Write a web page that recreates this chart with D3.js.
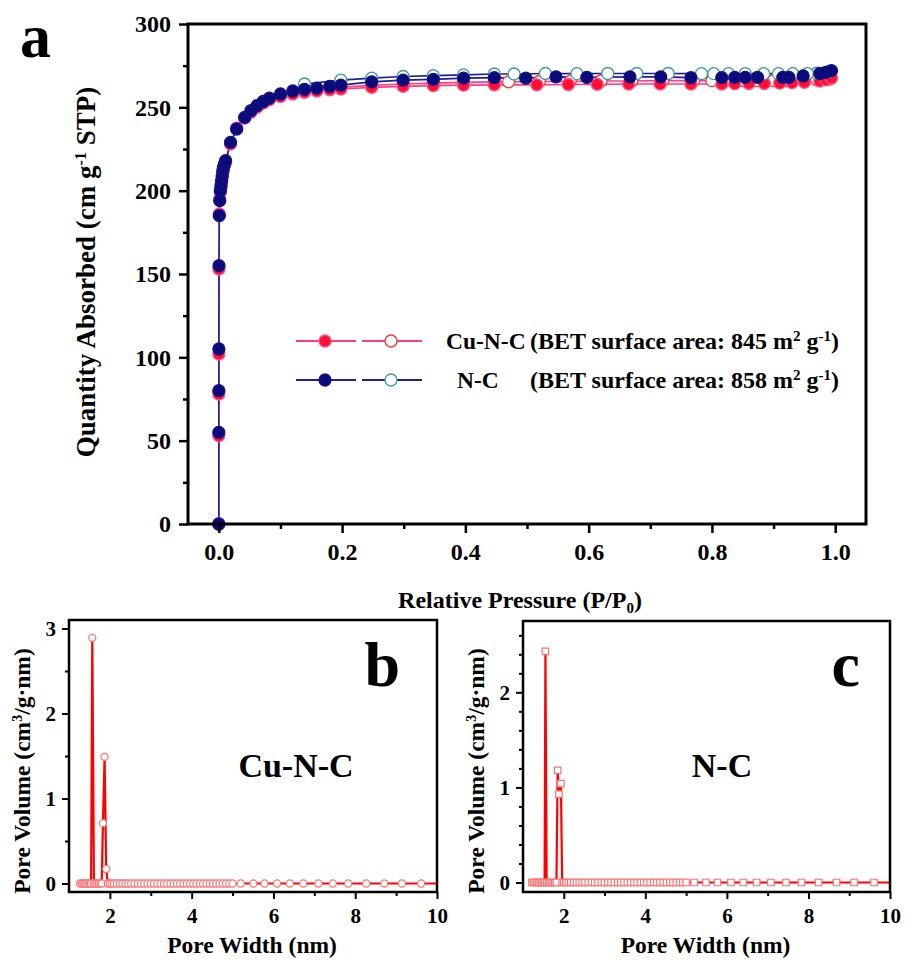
<!DOCTYPE html>
<html>
<head>
<meta charset="utf-8">
<script src="https://cdn.jsdelivr.net/npm/d3@7"></script>
<style>
  body { margin: 0; background: #fff; }
  svg text { font-family: "Liberation Serif", "Times New Roman", serif; font-weight: bold; fill: #000; }
</style>
</head>
<body>
<script>
// ---- panel a: N2 isotherms ----
const ncAdsX = [0, 0.00002, 0.00005, 0.0001, 0.0003, 0.0008, 0.0015, 0.0025, 0.0035, 0.0045, 0.0055, 0.0065, 0.0075, 0.009, 0.011, 0.019, 0.029, 0.042, 0.052, 0.062, 0.072, 0.082, 0.1, 0.12, 0.139, 0.159, 0.18, 0.198, 0.248, 0.299, 0.348, 0.397, 0.447, 0.498, 0.547, 0.597, 0.667, 0.717, 0.766, 0.816, 0.837, 0.854, 0.874, 0.915, 0.925, 0.948, 0.975, 0.985, 0.994];
const ncAdsY = [0, 55, 80, 105, 155, 185, 194, 200, 203, 206, 209, 212, 214, 216, 218, 229, 237, 244, 248, 251, 253.5, 255.5, 258, 259.8, 260.8, 261.5, 262.5, 263.3, 265.3, 266.3, 266.8, 267.5, 267.8, 267.5, 268.3, 268, 268.3, 268.3, 267.8, 267.8, 268, 268, 268, 268, 268, 268.8, 270.3, 271, 272];
const ncDesX = [0.99, 0.97, 0.955, 0.931, 0.908, 0.884, 0.854, 0.827, 0.803, 0.783, 0.729, 0.678, 0.631, 0.581, 0.530, 0.479, 0.447, 0.397, 0.348, 0.299, 0.248, 0.198, 0.139];
const ncDesY = [271.5, 270.5, 270.2, 270.2, 270.2, 270.2, 270.2, 270.2, 270.2, 270.2, 270.3, 270.3, 270.3, 270.2, 270.3, 270, 270, 269.5, 269, 268.5, 267.5, 266.3, 264];

const cuAdsX = [0, 0.00002, 0.00005, 0.0001, 0.0003, 0.0008, 0.0015, 0.0025, 0.0035, 0.0045, 0.0055, 0.0065, 0.0075, 0.009, 0.011, 0.019, 0.029, 0.042, 0.052, 0.062, 0.072, 0.082, 0.1, 0.12, 0.139, 0.159, 0.18, 0.198, 0.248, 0.299, 0.348, 0.397, 0.447, 0.516, 0.567, 0.614, 0.665, 0.716, 0.766, 0.816, 0.837, 0.86, 0.885, 0.91, 0.93, 0.95, 0.975, 0.985, 0.994];
const cuAdsY = [0, 53, 78, 102, 153, 186, 195, 199, 202, 205, 208, 211, 213, 215, 217, 228, 237.5, 243.5, 247, 250, 252.5, 254.5, 256.5, 258, 259, 259.8, 260.5, 261, 262, 262.6, 263, 263.3, 263.5, 263.5, 263.7, 263.8, 264, 264, 264, 264, 264.2, 264.3, 264.3, 264.5, 264.8, 265, 265.8, 266.5, 267.5];
const cuDesX = [0.99, 0.97, 0.948, 0.92, 0.9, 0.873, 0.85, 0.82, 0.8, 0.77, 0.72, 0.67, 0.62, 0.57, 0.52, 0.47, 0.447, 0.397, 0.348, 0.299, 0.248, 0.198, 0.139];
const cuDesY = [267, 266.5, 266.3, 266, 266, 266, 266, 266, 266, 266, 266, 265.8, 265.8, 265.6, 265.5, 265.3, 265.3, 265, 264.5, 264, 263.2, 262, 260];

const aTicksX = [0, 0.2, 0.4, 0.6, 0.8, 1.0];
const aMinorX = [0.1, 0.3, 0.5, 0.7, 0.9];
const aTicksY = [0, 50, 100, 150, 200, 250, 300];
const aMinorY = [25, 75, 125, 175, 225, 275];
const legendNames = ['Cu-N-C', 'N-C'];
const legendBET = ['845', '858'];

// ---- panels b, c: pore size distributions ----
const cuPoreX = [1.27, 1.31, 1.35, 1.39, 1.43, 1.47, 1.51, 1.54, 1.57, 1.61, 1.65, 1.69, 1.73, 1.77, 1.80, 1.83, 1.87, 1.91, 1.95, 1.99,
  2.04, 2.10, 2.17, 2.24, 2.31, 2.38, 2.45, 2.52,
  2.60, 2.68, 2.76, 2.84, 2.92, 3.00, 3.08, 3.16, 3.24, 3.32, 3.40, 3.48, 3.56, 3.64, 3.72, 3.80, 3.88, 3.96,
  4.04, 4.12, 4.20, 4.28, 4.36, 4.44, 4.52, 4.60, 4.68, 4.76, 4.84, 4.92, 5.00,
  5.20, 5.51, 5.78, 6.09, 6.40, 6.73, 7.10, 7.45, 7.83, 8.27, 8.71, 9.14, 9.61, 10.10];
const cuPoreY = [0, 0, 0, 0, 0, 0, 0, 0, 2.89, 0, 0, 0, 0, 0, 0, 0.71, 1.49, 0.17, 0, 0,
  0, 0, 0, 0, 0, 0, 0, 0,
  0, 0, 0, 0, 0, 0, 0, 0, 0, 0, 0, 0, 0, 0, 0, 0, 0, 0,
  0, 0, 0, 0, 0, 0, 0, 0, 0, 0, 0, 0, 0,
  0, 0, 0, 0, 0, 0, 0, 0, 0, 0, 0, 0, 0, 0];
const ncPoreX = [1.22, 1.26, 1.30, 1.34, 1.38, 1.42, 1.46, 1.50, 1.53, 1.55, 1.58, 1.62, 1.66, 1.70, 1.74, 1.78, 1.82, 1.85, 1.88, 1.93, 1.96,
  2.00, 2.05, 2.11, 2.17, 2.24, 2.31, 2.38, 2.45, 2.52,
  2.60, 2.68, 2.76, 2.84, 2.92, 3.00, 3.08, 3.16, 3.24, 3.32, 3.40, 3.48, 3.56, 3.64, 3.72, 3.80, 3.88, 3.96,
  4.04, 4.12, 4.20, 4.28, 4.36, 4.44, 4.52, 4.60, 4.68, 4.76, 4.84, 4.92, 5.00,
  5.20, 5.49, 5.77, 6.10, 6.40, 6.73, 7.08, 7.45, 7.83, 8.25, 8.69, 9.12, 9.61, 10.10];
const ncPoreY = [0, 0, 0, 0, 0, 0, 0, 0, 0, 2.43, 0, 0, 0, 0, 0, 0, 0, 1.18, 0.93, 1.04, 0,
  0, 0, 0, 0, 0, 0, 0, 0, 0,
  0, 0, 0, 0, 0, 0, 0, 0, 0, 0, 0, 0, 0, 0, 0, 0, 0, 0,
  0, 0, 0, 0, 0, 0, 0, 0, 0, 0, 0, 0, 0,
  0, 0, 0, 0, 0, 0, 0, 0, 0, 0, 0, 0, 0, 0];
const poreTicksX = [2, 4, 6, 8, 10];
const poreMinorX = [3, 5, 7, 9];

const svg = d3.select('body')
  .append('svg')
  .attr('width', 905)
  .attr('height', 960);

const zip = (xs, ys) => xs.map((x, i) => ({ x, y: ys[i] }));

// draws ticks (outward), labels and the box frame
function drawFrame(box, x, y, opt) {
  const g = svg.append('g');
  const bottom = g.append('g')
    .attr('transform', `translate(0,${box.bottom})`)
    .call(d3.axisBottom(x).tickValues(opt.xTicks).tickSize(opt.major).tickPadding(opt.padX).tickFormat(opt.fmtX));
  const bottomMinor = g.append('g')
    .attr('transform', `translate(0,${box.bottom})`)
    .call(d3.axisBottom(x).tickValues(opt.xMinor).tickSize(opt.minor).tickFormat(''));
  const left = g.append('g')
    .attr('transform', `translate(${box.left},0)`)
    .call(d3.axisLeft(y).tickValues(opt.yTicks).tickSize(opt.major).tickPadding(opt.padY).tickFormat(opt.fmtY));
  const leftMinor = g.append('g')
    .attr('transform', `translate(${box.left},0)`)
    .call(d3.axisLeft(y).tickValues(opt.yMinor).tickSize(opt.minor).tickFormat(''));
  [bottom, bottomMinor, left, leftMinor].forEach(ax => {
    ax.select('.domain').remove();
    ax.selectAll('line').attr('stroke', '#000').attr('stroke-width', opt.tickW);
    ax.selectAll('text').style('font-size', opt.font + 'px').attr('fill', '#000');
  });
  g.append('rect')
    .attr('x', box.left).attr('y', box.top)
    .attr('width', box.right - box.left).attr('height', box.bottom - box.top)
    .attr('fill', 'none').attr('stroke', '#000').attr('stroke-width', opt.frameW);
  return g;
}

// ---------- panel a ----------
const boxA = { left: 188, right: 866, top: 24, bottom: 524 };
const xA = d3.scaleLinear().domain([-0.05, 1.05]).range([boxA.left, boxA.right]);
const yA = d3.scaleLinear().domain([0, 300]).range([boxA.bottom, boxA.top]);

const lineA = d3.line().x(d => xA(d.x)).y(d => yA(d.y));

const seriesA = [
  { data: zip(cuDesX, cuDesY), line: '#ff3d85', fill: '#fff', edge: '#ff3030' },
  { data: zip(cuAdsX, cuAdsY), line: '#ff3d85', fill: '#ff1030', edge: '#ff4f8f' },
  { data: zip(ncDesX, ncDesY), line: '#1e1e96', fill: '#fff', edge: '#3a9a9a' },
  { data: zip(ncAdsX, ncAdsY), line: '#1e1e96', fill: '#0a0a78', edge: '#12128a' }
];

const plotA = svg.append('g');
seriesA.forEach(s => {
  plotA.append('path')
    .attr('d', lineA(s.data))
    .attr('fill', 'none')
    .attr('stroke', s.line)
    .attr('stroke-width', 1.6);
});
seriesA.forEach(s => {
  plotA.selectAll(null)
    .data(s.data)
    .enter()
    .append('circle')
    .attr('cx', d => xA(d.x))
    .attr('cy', d => yA(d.y))
    .attr('r', 6)
    .attr('fill', s.fill)
    .attr('stroke', s.edge)
    .attr('stroke-width', 1.3);
});

drawFrame(boxA, xA, yA, {
  xTicks: aTicksX, xMinor: aMinorX, yTicks: aTicksY, yMinor: aMinorY,
  major: 9, minor: 5, padX: 10, padY: 8, tickW: 2.5, frameW: 3, font: 24,
  fmtX: d3.format('.1f'), fmtY: d3.format('d')
});

svg.append('text')
  .attr('x', 20).attr('y', 57)
  .style('font-size', '62px')
  .text('a');

const yTitleA = svg.append('text')
  .attr('transform', 'translate(95,272) rotate(-90)')
  .attr('text-anchor', 'middle')
  .style('font-size', '27px');
yTitleA.append('tspan').text('Quantity Absorbed (cm g');
yTitleA.append('tspan').attr('dy', -9).style('font-size', '16px').text('-1');
yTitleA.append('tspan').attr('dy', 9).text(' STP)');

const xTitleA = svg.append('text')
  .attr('x', 520).attr('y', 608)
  .attr('text-anchor', 'middle')
  .style('font-size', '24px');
xTitleA.append('tspan').text('Relative Pressure (P/P');
xTitleA.append('tspan').attr('dy', 5).style('font-size', '15px').text('0');
xTitleA.append('tspan').attr('dy', -5).text(')');

// legend
const legend = svg.append('g');
legendNames.forEach((name, i) => {
  const ly = 341 + i * 39;
  const filled = seriesA[i * 2 + 1];
  const open = seriesA[i * 2];
  legend.append('line').attr('x1', 296).attr('x2', 356).attr('y1', ly).attr('y2', ly)
    .attr('stroke', filled.line).attr('stroke-width', 1.8);
  legend.append('line').attr('x1', 362).attr('x2', 422).attr('y1', ly).attr('y2', ly)
    .attr('stroke', open.line).attr('stroke-width', 1.8);
  legend.append('circle').attr('cx', 325).attr('cy', ly).attr('r', 6)
    .attr('fill', filled.fill).attr('stroke', filled.edge).attr('stroke-width', 1.3);
  legend.append('circle').attr('cx', 391).attr('cy', ly).attr('r', 6)
    .attr('fill', open.fill).attr('stroke', open.edge).attr('stroke-width', 1.3);
  legend.append('text')
    .attr('x', i === 0 ? 446 : 457).attr('y', ly + 8)
    .style('font-size', '23.5px')
    .text(name);
  const t = legend.append('text')
    .attr('x', 530).attr('y', ly + 8)
    .style('font-size', '24px');
  t.append('tspan').text(`(BET surface area: ${legendBET[i]} m`);
  t.append('tspan').attr('dy', -8).style('font-size', '15px').text('2');
  t.append('tspan').attr('dy', 8).text(' g');
  t.append('tspan').attr('dy', -8).style('font-size', '15px').text('-1');
  t.append('tspan').attr('dy', 8).text(')');
});

// ---------- panels b and c ----------
function drawPore(box, yDomain, yTicks, yMinor, xs, ys, symbol, letter, letterX, name, nameX, titleX) {
  const x = d3.scaleLinear().domain([1, 10]).range([box.left, box.right]);
  const y = d3.scaleLinear().domain(yDomain).range([box.bottom, box.top]);
  const data = zip(xs, ys);

  const clipId = 'clip-' + letter;
  svg.append('clipPath').attr('id', clipId)
    .append('rect')
    .attr('x', box.left).attr('y', box.top)
    .attr('width', box.right - box.left).attr('height', box.bottom - box.top);

  const g = svg.append('g').attr('clip-path', `url(#${clipId})`);
  g.append('path')
    .attr('d', d3.line().x(d => x(d.x)).y(d => y(d.y))(data))
    .attr('fill', 'none')
    .attr('stroke', '#ff0000')
    .attr('stroke-width', 2.2);
  g.selectAll(null)
    .data(data)
    .enter()
    .append('path')
    .attr('transform', d => `translate(${x(d.x)},${y(d.y)})`)
    .attr('d', d3.symbol().type(symbol).size(symbol === d3.symbolSquare ? 42 : 40))
    .attr('fill', '#fff')
    .attr('stroke', '#ff7070')
    .attr('stroke-width', 1.2);

  drawFrame(box, x, y, {
    xTicks: poreTicksX, xMinor: poreMinorX, yTicks, yMinor,
    major: 7, minor: 4, padX: 9, padY: 6, tickW: 2, frameW: 2.5, font: 21,
    fmtX: d3.format('d'), fmtY: d3.format('d')
  });

  svg.append('text')
    .attr('x', letterX).attr('y', 686)
    .attr('text-anchor', 'end')
    .style('font-size', '64px')
    .text(letter);

  svg.append('text')
    .attr('x', nameX).attr('y', 777)
    .attr('text-anchor', 'middle')
    .style('font-size', '34px')
    .text(name);

  const yt = svg.append('text')
    .attr('transform', `translate(${titleX},771) rotate(-90)`)
    .attr('text-anchor', 'middle')
    .style('font-size', '23.5px');
  yt.append('tspan').text('Pore Volume (cm');
  yt.append('tspan').attr('dy', -8).style('font-size', '14px').text('3');
  yt.append('tspan').attr('dy', 8).text('/g\u00b7nm)');

  svg.append('text')
    .attr('x', (box.left + box.right) / 2 - 1).attr('y', 953)
    .attr('text-anchor', 'middle')
    .style('font-size', '23.5px')
    .text('Pore Width (nm)');
}

drawPore({ left: 69, right: 437, top: 620, bottom: 892 }, [-0.1, 3.1], [0, 1, 2, 3], [0.5, 1.5, 2.5],
  cuPoreX, cuPoreY, d3.symbolCircle, 'b', 400, 'Cu-N-C', 296, 30);
drawPore({ left: 523, right: 890, top: 621, bottom: 892 }, [-0.1, 2.75], [0, 1, 2],
  [0.2, 0.4, 0.6, 0.8, 1.2, 1.4, 1.6, 1.8, 2.2, 2.4, 2.6],
  ncPoreX, ncPoreY, d3.symbolSquare, 'c', 860, 'N-C', 722, 484);
</script>
</body>
</html>
